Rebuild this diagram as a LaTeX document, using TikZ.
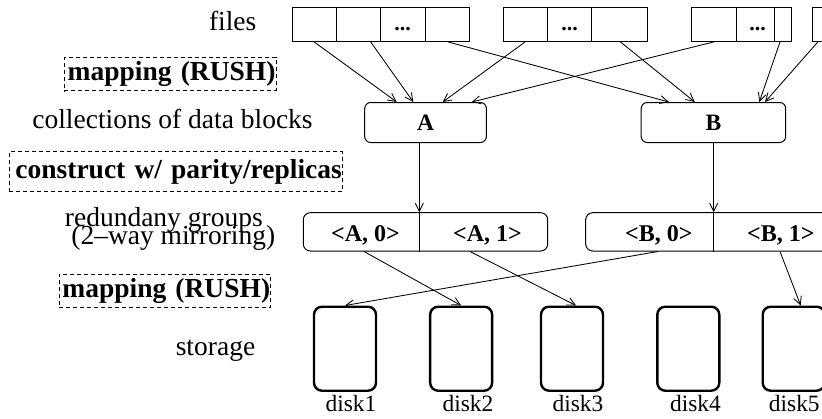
\documentclass[tikz,border=0pt]{standalone}
\usepackage{fontspec}
\setmainfont{Liberation Serif}
\usetikzlibrary{arrows.meta}
\begin{document}
\begin{tikzpicture}[x=1pt,y=-1pt,
  big/.style={font=\fontsize{27.5}{28}\selectfont},
  lab/.style={big, inner sep=0, anchor=base},
  cell/.style={draw, line width=0.9pt, inner sep=0, minimum height=34pt},
  dots/.style={font=\bfseries\fontsize{22}{22}\selectfont, inner sep=0, anchor=base},
  coll/.style={draw, line width=1pt, rounded corners=6pt, minimum height=40pt, inner sep=0, font=\bfseries\fontsize{23.5}{23.5}\selectfont},
  grp/.style={draw, line width=1pt, rounded corners=7pt, minimum height=38.3pt, inner sep=0},
  gtxt/.style={font=\bfseries\fontsize{24}{24}\selectfont, inner sep=0, anchor=base},
  disk/.style={draw, line width=2.4pt, rounded corners=8pt, minimum width=62pt, minimum height=84pt, inner sep=0},
  dtxt/.style={font=\fontsize{23.4}{24}\selectfont, inner sep=0, anchor=base},
  dbox/.style={draw, dash pattern=on 4pt off 3pt, line width=0.9pt, font=\bfseries\fontsize{27.5}{28}\selectfont, align=right, inner xsep=0.5pt, inner ysep=0},
  arr/.style={-{Straight Barb[length=8pt,width=8pt]}, line width=0.85pt}
]
\clip (0,0) rectangle (822,418);

% left labels
\node[lab] (lfiles) at (232.7,30.5) {files};
\node[dbox, text width=210.7pt, minimum height=33.4pt] (map1) at (170.15,74) {mapping (RUSH)};
\node[lab] (lcoll) at (172.5,128) {collections of data blocks};
\node[dbox, text width=332pt, minimum height=40pt] (constr) at (175.8,171.7) {construct w/ parity/replicas};
\node[lab] (lred) at (163.8,226.5) {redundany groups};
\node[lab] (lmir) at (173.3,244) {(2–way mirroring)};
\node[dbox, text width=210.4pt, minimum height=33.3pt] (map2) at (165,290.65) {mapping (RUSH)};
\node[lab] (lsto) at (215.5,355.5) {storage};

% file cells
\node[cell, minimum width=44pt]   (f11) at (314.2,24.5) {};
\node[cell, minimum width=44.6pt] (f12) at (358.5,24.5) {};
\node[cell, minimum width=44.3pt] (f13) at (402.95,24.5) {};
\node[cell, minimum width=44.3pt] (f14) at (447.25,24.5) {};
\node[cell, minimum width=44.2pt] (f21) at (525.1,24.5) {};
\node[cell, minimum width=44.6pt] (f22) at (569.5,24.5) {};
\node[cell, minimum width=55.3pt] (f23) at (619.45,24.5) {};
\node[cell, minimum width=44.9pt] (f31) at (713.75,24.5) {};
\node[cell, minimum width=38.4pt] (f32) at (755.4,24.5) {};
\node[cell, minimum width=16.8pt] (f33) at (783,24.5) {};
\node[cell, minimum width=57.3pt] (f41) at (841.35,24.5) {};
\node[dots] (d13) at (402.5,30.5) {...};
\node[dots] (d22) at (569.5,30.5) {...};
\node[dots] (d32) at (757.5,30.5) {...};

% collections
\node[coll, minimum width=121.7pt] (A) at (425.55,122.5) {A};
\node[coll, minimum width=144.5pt] (B) at (713.45,122.5) {B};

% file -> collection arrows
\draw[arr] (f11.south) -- ([xshift=-28.85pt]A.north);
\draw[arr] ([xshift=12.2pt]f12.south) -- ([xshift=-12.25pt]A.north);
\draw[arr] ([xshift=1pt]f14.south) -- ([xshift=-44.55pt]B.north);
\draw[arr] (f21.south) -- ([xshift=17.15pt]A.north);
\draw[arr] ([xshift=1pt]f23.south) -- ([xshift=-18.65pt]B.north);
\draw[arr] (f31.south) -- ([xshift=46.15pt]A.north);
\draw[arr] ([xshift=-3pt]f33.south) -- ([xshift=45.85pt]B.north);
\draw[arr] ([xshift=5.6pt]f41.south west) -- ([xshift=51.55pt]B.north);

% redundancy groups
\node[grp, minimum width=244.4pt] (gA) at (425.5,231.85) {};
\node[grp, minimum width=256pt] (gB) at (713.7,231.85) {};
\draw[line width=1pt] ([xshift=-6.2pt]gA.north) -- ([xshift=-6.2pt]gA.south);
\draw[line width=1pt] (gB.north) -- (gB.south);
\node[gtxt] (tA0) at (365.5,241) {<A, 0>};
\node[gtxt] (tA1) at (487.5,241) {<A, 1>};
\node[gtxt] (tB0) at (658.8,241) {<B, 0>};
\node[gtxt] (tB1) at (780.8,241) {<B, 1>};

\draw[arr] ([xshift=-6.25pt]A.south) -- ([xshift=-6.2pt]gA.north);
\draw[arr] ([xshift=0.25pt]B.south) -- (gB.north);

% disks
\node[disk] (disk1) at (345,348.7) {};
\node[disk] (disk2) at (461.15,348.7) {};
\node[disk] (disk3) at (572,348.7) {};
\node[disk] (disk4) at (688.3,348.7) {};
\node[disk] (disk5) at (793.7,348.7) {};
\node[dtxt] (t1) at (351,411.7) {disk1};
\node[dtxt] (t2) at (468,411.7) {disk2};
\node[dtxt] (t3) at (578,411.7) {disk3};
\node[dtxt] (t4) at (695.5,411.7) {disk4};
\node[dtxt] (t5) at (794.3,411.7) {disk5};

\draw[arr] ([xshift=-61.5pt]gA.south) -- (disk2.north);
\draw[arr] ([xshift=44.5pt]gA.south) -- ([xshift=4pt]disk3.north);
\draw[arr] ([xshift=-55.7pt]gB.south) -- (disk1.north);
\draw[arr] ([xshift=66.3pt]gB.south) -- ([xshift=7pt]disk5.north);
\end{tikzpicture}
\end{document}
